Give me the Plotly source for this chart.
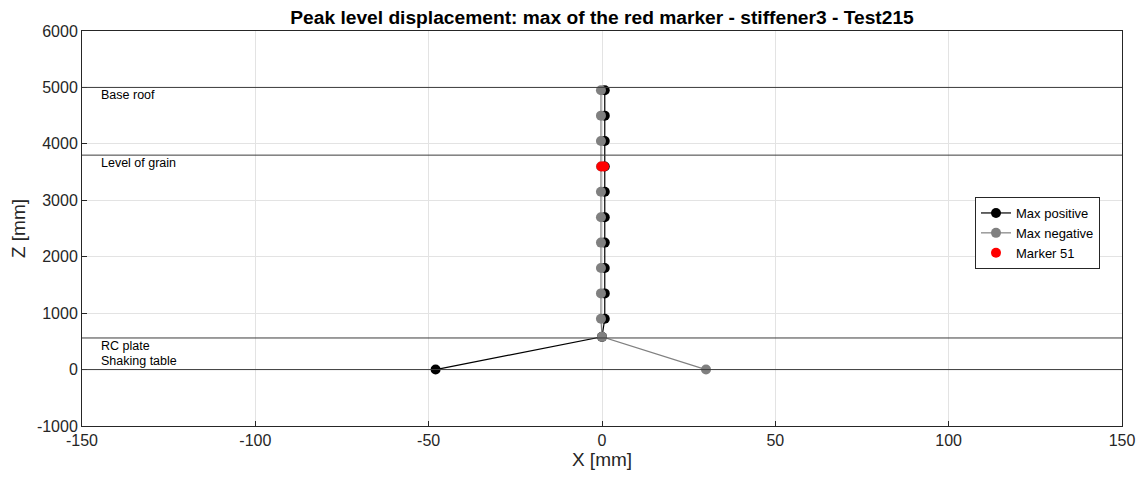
import plotly.graph_objects as go

z_levels = [0, 580, 900, 1350, 1800, 2250, 2700, 3150, 3600, 4050, 4500, 4950]
x_pos = [-48, 0.0, 0.8, 0.8, 0.8, 0.8, 0.8, 0.8, 0.8, 0.8, 0.8, 0.8]
x_neg = [30, 0.0, -0.3, -0.3, -0.3, -0.3, -0.3, -0.3, -0.3, -0.3, -0.3, -0.3]
red_x = [-0.2, 0.6]
red_z = [3600, 3600]
ref_levels = [5000, 3800, 560, 0]
ref_names = ["Base roof", "Level of grain", "RC plate", "Shaking table"]
x_ticks = [-150, -100, -50, 0, 50, 100, 150]
y_ticks = [-1000, 0, 1000, 2000, 3000, 4000, 5000, 6000]

fig = go.Figure()
for lv in ref_levels:
    fig.add_shape(type="line", xref="x", yref="y", x0=-150, x1=150, y0=lv, y1=lv,
                  line=dict(color="#3c3c3c", width=1), layer="above")

fig.add_trace(go.Scatter(x=x_pos, y=z_levels, mode="lines+markers", name="Max positive",
                         line=dict(color="black", width=1.2),
                         marker=dict(color="black", size=10)))
fig.add_trace(go.Scatter(x=x_neg, y=z_levels, mode="lines+markers", name="Max negative",
                         line=dict(color="#808080", width=1.2),
                         marker=dict(color="#808080", size=10)))
fig.add_trace(go.Scatter(x=red_x, y=red_z, mode="markers", name="Marker 51",
                         marker=dict(color="red", size=10)))

for lv, nm in zip(ref_levels, ref_names):
    if nm == "Shaking table":
        fig.add_annotation(x=-144, y=lv, text=nm, showarrow=False, xanchor="left",
                           yanchor="bottom", yshift=0, xshift=-4,
                           font=dict(size=12.5, color="black"))
    else:
        fig.add_annotation(x=-144, y=lv, text=nm, showarrow=False, xanchor="left",
                           yanchor="top", yshift=1, xshift=-4,
                           font=dict(size=12.5, color="black"))

axis_font = dict(size=16, color="#262626")
W, H = 1145, 487
fig.update_layout(
    width=W, height=H,
    margin=dict(l=82, r=23, t=31, b=61),
    paper_bgcolor="white", plot_bgcolor="white",
    font=dict(family="Arial, Liberation Sans, sans-serif", color="#262626"),
    title=dict(text="<b>Peak level displacement: max of the red marker - stiffener3 - Test215</b>",
               x=0.5, xanchor="center", xref="paper", y=1 - 17 / H, yanchor="middle",
               font=dict(size=19.2, color="black")),
    xaxis=dict(range=[-150, 150], tickvals=x_ticks, ticktext=[str(v) for v in x_ticks],
               showgrid=True, gridcolor="#e3e3e3", zeroline=False, automargin=False,
               showline=True, linecolor="#262626", mirror=True, linewidth=1,
               ticks="inside", ticklen=5, tickcolor="#262626",
               tickfont=axis_font,
               title=dict(text="X [mm]", font=dict(size=19, color="#262626"), standoff=4)),
    yaxis=dict(range=[-1000, 6000], tickvals=y_ticks, ticktext=[str(v) for v in y_ticks],
               showgrid=True, gridcolor="#e3e3e3", zeroline=False, automargin=False,
               showline=True, linecolor="#262626", mirror=True, linewidth=1,
               ticks="inside", ticklen=5, tickcolor="#262626",
               tickfont=axis_font,
               title=dict(text="Z [mm]", font=dict(size=19, color="#262626"), standoff=6)),
    legend=dict(x=(975 - 82) / 1040, y=(426 - 197) / 395, xanchor="left", yanchor="top",
                bgcolor="white", bordercolor="#262626", borderwidth=1,
                font=dict(size=13, color="black"), tracegroupgap=0,
                itemwidth=30),
    showlegend=True,
)

fig.write_html("out.html", config={"displayModeBar": False},
               post_script="document.body.style.margin='0';document.body.style.overflow='hidden';")
